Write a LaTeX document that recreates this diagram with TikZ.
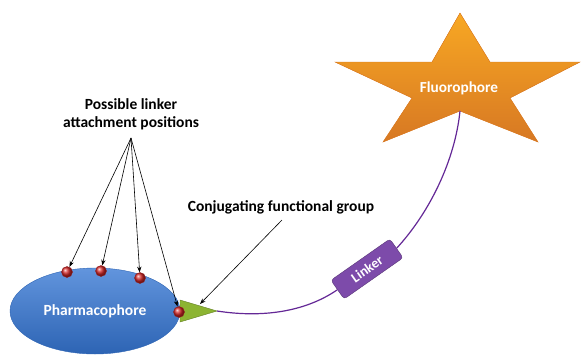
\documentclass[tikz,border=0pt]{standalone}
\usepackage{fontspec}
\setmainfont{Carlito}
\usetikzlibrary{arrows.meta, shapes.geometric}
\definecolor{pharma}{RGB}{70,130,215}
\definecolor{pharmadark}{RGB}{45,100,180}
\definecolor{fluor}{RGB}{246,146,44}
\definecolor{fluordark}{RGB}{215,120,35}
\definecolor{linkfill}{RGB}{125,75,170}
\definecolor{chain}{RGB}{100,40,150}
\definecolor{conj}{RGB}{140,180,50}
\definecolor{attach}{RGB}{215,40,40}

\begin{document}
\begin{tikzpicture}[x=1pt, y=-1pt, >=Stealth, font=\bfseries\fontsize{15.5}{18}\selectfont,
  site/.style={circle, draw=attach!70!black, inner sep=0pt, minimum size=11pt,
    ball color=attach},
  pointer/.style={->, black, line width=0.6pt}]
\useasboundingbox (0,0) rectangle (581,354);

% ---- pharmacophore ----
\node[ellipse, minimum width=170pt, minimum height=86pt, draw=pharmadark,
  top color=pharma!85!white, bottom color=pharmadark, text=white,
  font=\bfseries\fontsize{15.5}{18}\selectfont] (pharm) at (95,311) {Pharmacophore};

% ---- conjugating group ----
\fill[conj, draw=conj!70!black] (180,300) -- (217,311) -- (180,322) -- cycle;
\coordinate (tip) at (217,311);
\coordinate (cgrp) at (200,304);

% ---- attachment sites ----
\node[site] (s1) at (67,272) {};
\node[site] (s2) at (101,271) {};
\node[site] (s3) at (140,278) {};
\node[site] (s4) at (179,312) {};

% ---- fluorophore (star) ----
\fill[fluor, draw=fluordark, top color=fluor!80!yellow, bottom color=fluordark]
  (460,13) -- (490,62) -- (580,62) -- (510,98) -- (538,142) -- (460,111)
  -- (383,142) -- (412,98) -- (335,62) -- (432,62) -- cycle;
\coordinate (fbot) at (460,111);
\node[text=white, font=\bfseries\fontsize{15.3}{18}\selectfont] (fluo) at (459,88) {Fluorophore};

% ---- linker ----
\node[rounded corners=3pt, fill=linkfill, draw=linkfill!70!black, text=white,
  rotate=35, minimum width=72pt, minimum height=23pt, inner sep=1pt,
  font=\bfseries\fontsize{14}{16}\selectfont] (lnk) at (367,269) {Linker};
\draw[chain, line width=1.2pt] (tip) .. controls (262,318) and (305,312) .. (lnk.west);
\draw[chain, line width=1.2pt] (lnk.east) .. controls (430,212) and (455,160) .. (fbot);

% ---- labels ----
\node[align=center] (plab) at (131,114) {Possible linker\\attachment positions};
\coordinate (apex) at (131,138);
\foreach \s in {s1,s2,s3,s4}
  \draw[pointer] (apex) -- (\s);

\node (clab) at (281,207) {Conjugating functional group};
\coordinate (ctail) at (282,220);
\draw[pointer] (ctail) -- (cgrp);
\end{tikzpicture}
\end{document}
